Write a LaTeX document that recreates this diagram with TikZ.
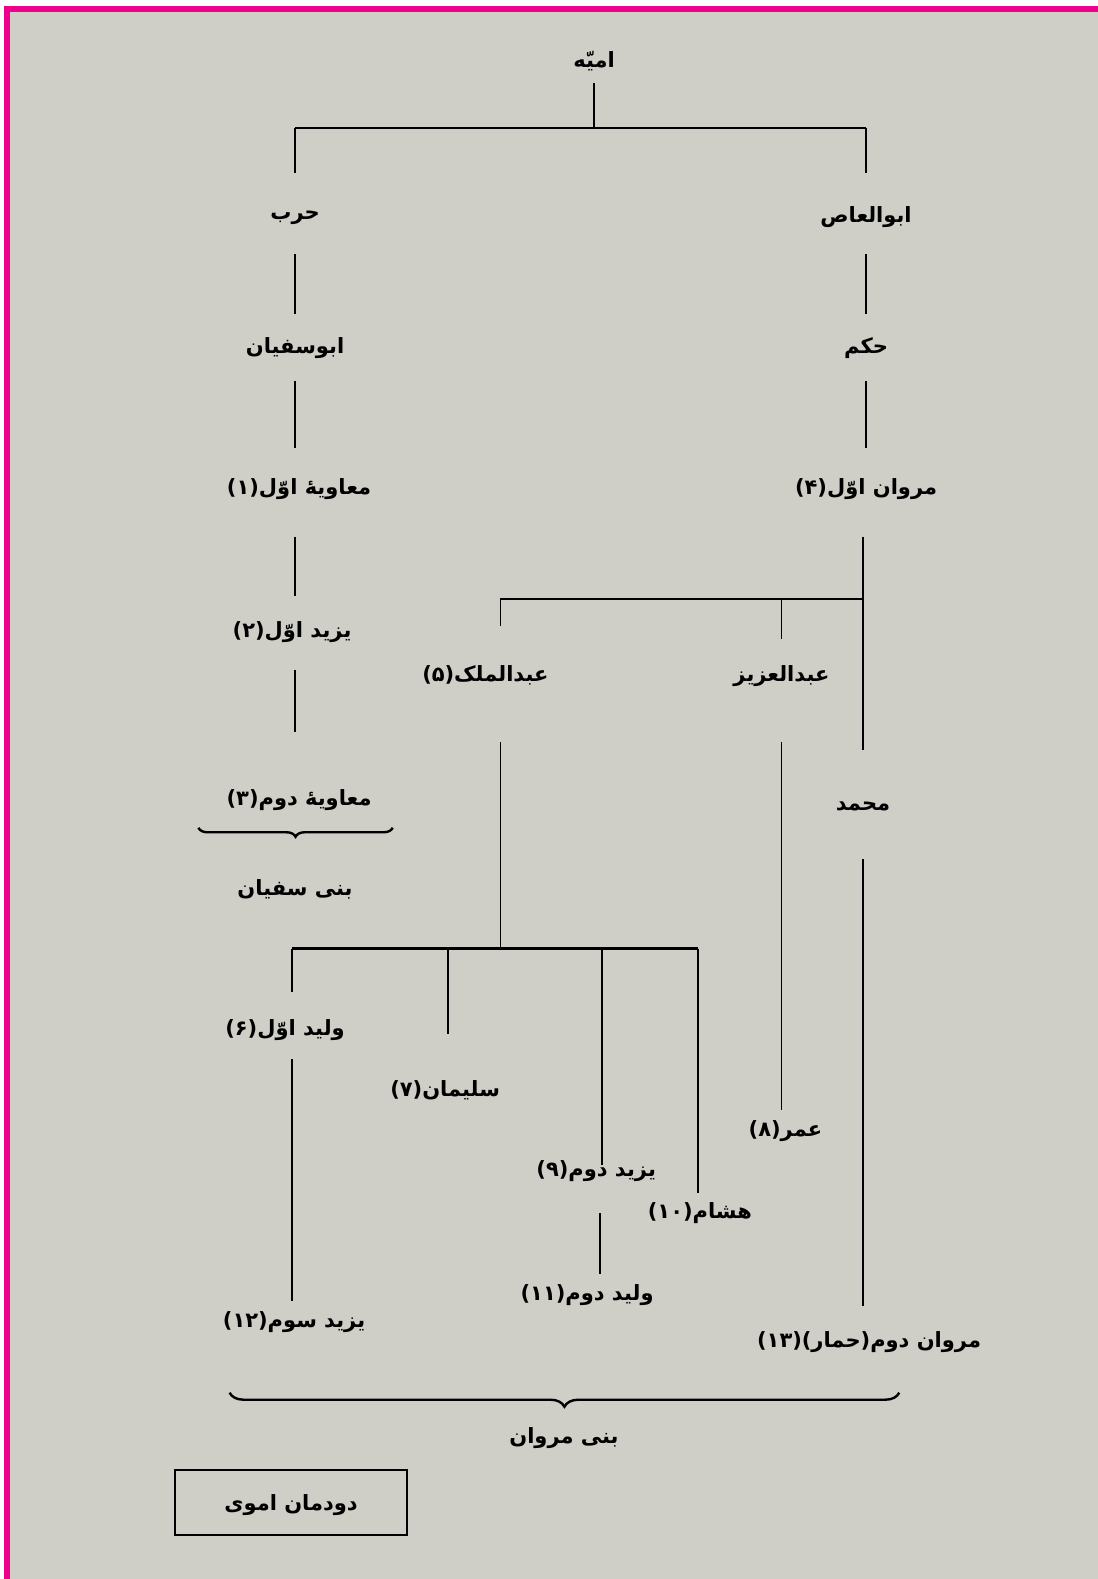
\documentclass[tikz,border=0pt]{standalone}
\usepackage{fontspec}
\usetikzlibrary{decorations.pathreplacing}
\newfontfamily\arabicfont[Script=Arabic]{DejaVu Sans}
\TeXXeTstate=1
\definecolor{bgc}{HTML}{CFCFC7}
\definecolor{pinkb}{HTML}{EC008C}
\newcommand{\rl}[1]{\beginR #1\endR}
\begin{document}
\begin{tikzpicture}[x=1.0073pt,y=-1.0073pt,
  lbl/.style={font=\arabicfont\bfseries\fontsize{21}{25}\selectfont, inner sep=0pt, text=black, yshift=-3pt},
  vln/.style={line width=1.9pt, draw=black},
  hln/.style={line width=2.6pt, draw=black},
  brc/.style={line width=2.4pt, draw=black, decorate, decoration={brace, amplitude=#1}},
  boxst/.style={draw=black, line width=2.2pt, minimum width=232pt, minimum height=65pt, inner sep=0pt}]
% background and border
\fill[white] (0,0) rectangle (1090,1568);
\fill[bgc] (4,6) rectangle (1090,1568);
\fill[pinkb] (4,6) rectangle (1090,12);
\fill[pinkb] (4,6) rectangle (10,1568);
\useasboundingbox (0,0) rectangle (1090,1568);

% nodes
\node[lbl] (umayya) at (590,58) {\rl{امیّه}};
\node[lbl] (harb) at (293,213) {\rl{حرب}};
\node[lbl] (abualas) at (860,213) {\rl{ابوالعاص}};
\node[lbl] (abusufyan) at (293,343) {\rl{ابوسفیان}};
\node[lbl] (hakam) at (860,343) {\rl{حکم}};
\node[lbl] (muawiya1) at (297,483) {\rl{معاویهٔ اوّل(۱)}};
\node[lbl] (marwan1) at (860,483) {\rl{مروان اوّل(۴)}};
\node[lbl] (yazid1) at (290,625) {\rl{یزید اوّل(۲)}};
\node[lbl] (muawiya2) at (297,792) {\rl{معاویهٔ دوم(۳)}};
\node[lbl] (banisufyan) at (293,880) {\rl{بنی سفیان}};
\node[lbl] (abdulmalik) at (482,668) {\rl{عبدالملک(۵)}};
\node[lbl] (abdulaziz) at (776,668) {\rl{عبدالعزیز}};
\node[lbl] (muhammad) at (857,798) {\rl{محمد}};
\node[lbl] (walid1) at (283,1020) {\rl{ولید اوّل(۶)}};
\node[lbl] (sulayman) at (442,1080) {\rl{سلیمان(۷)}};
\node[lbl] (yazid2) at (592,1160) {\rl{یزید دوم(۹)}};
\node[lbl] (hisham) at (695,1202) {\rl{هشام(۱۰)}};
\node[lbl] (umar) at (780,1120) {\rl{عمر(۸)}};
\node[lbl] (yazid3) at (292,1310) {\rl{یزید سوم(۱۲)}};
\node[lbl] (walid2) at (583,1283) {\rl{ولید دوم(۱۱)}};
\node[lbl] (marwan2) at (863,1330) {\rl{مروان دوم(حمار)(۱۳)}};
\node[lbl] (banimarwan) at (560,1425) {\rl{بنی مروان}};
\node[boxst] (dudman) at (289,1492) {};
\node[lbl] (dudmantext) at (289,1492) {\rl{دودمان اموی}};

% junction coordinates
\coordinate (j0) at (590,127);
\coordinate (jL) at (293,127);
\coordinate (jR) at (860,127);
\coordinate (j1) at (857,595);
\coordinate (j1a) at (497,595);
\coordinate (j1b) at (776,595);
\coordinate (j2) at (497,942);
\coordinate (j2a) at (290,942);
\coordinate (j2b) at (445,942);
\coordinate (j2c) at (598,942);
\coordinate (j2d) at (693,942);

% connectors
\draw[vln] (590,82) -- (j0);
\draw[hln] (jL) -- (jR);
\draw[vln] (jL) -- (293,172);
\draw[vln] (jR) -- (860,172);
\draw[vln] (293,252) -- (293,312);
\draw[vln] (860,252) -- (860,312);
\draw[vln] (293,378) -- (293,445);
\draw[vln] (860,378) -- (860,445);
\draw[vln] (293,533) -- (293,592);
\draw[vln] (293,665) -- (293,727);
\draw[brc=9pt] (390,822) -- (197,822);

\draw[vln] (857,533) -- (857,745);
\draw[hln] (j1a) -- (j1);
\draw[vln] (j1a) -- (497,622);
\draw[vln] (j1b) -- (776,635);
\draw[vln] (497,737) -- (j2);
\draw[hln] (j2a) -- (j2d);
\draw[vln] (j2a) -- (290,985);
\draw[vln] (j2b) -- (445,1027);
\draw[vln] (j2c) -- (598,1157);
\draw[vln] (j2d) -- (693,1185);
\draw[vln] (776,737) -- (776,1102);
\draw[vln] (290,1052) -- (290,1292);
\draw[vln] (596,1205) -- (596,1265);
\draw[vln] (857,853) -- (857,1297);
\draw[brc=14pt] (893,1383) -- (228,1383);
\end{tikzpicture}
\end{document}
